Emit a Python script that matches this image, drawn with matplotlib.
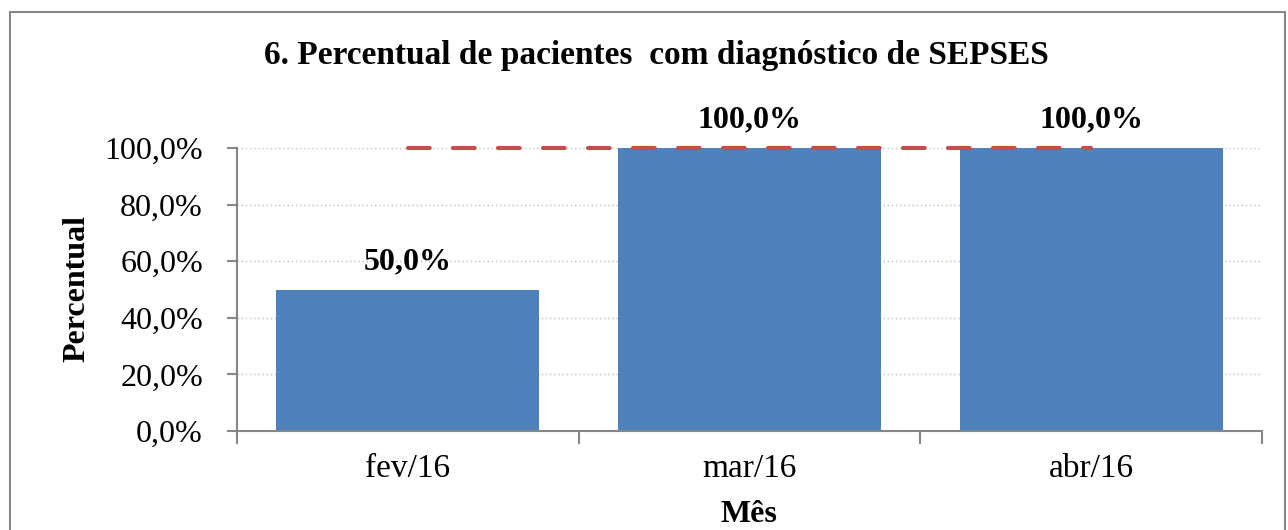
import matplotlib
matplotlib.use("Agg")
import matplotlib.pyplot as plt
from matplotlib.patches import Rectangle
from matplotlib.ticker import FuncFormatter, FixedLocator

categories = ["fev/16", "mar/16", "abr/16"]
values = [50.0, 100.0, 100.0]
meta = [100.0, 100.0, 100.0]
yticks = [0, 20, 40, 60, 80, 100]

plt.rcParams['font.family'] = ['Liberation Serif', 'DejaVu Serif']

W, H = 1288, 530
fig = plt.figure(figsize=(W / 100, H / 100), dpi=100)
fig.patch.set_facecolor('white')

# outer frame
fig.patches.append(Rectangle((10 / W, -0.05), (1285 - 10) / W, (H - 12) / H + 0.05,
                             transform=fig.transFigure, fill=False,
                             edgecolor='#868686', linewidth=1.5))

ax = fig.add_axes([237 / W, (H - 431) / H, (1262 - 237) / W, (431 - 148) / H])
x = list(range(len(categories)))
ax.bar(x, values, width=0.77, color='#4F81BD', zorder=2)
ax.plot(x, meta, color='#C0504D', linewidth=3, dashes=(5.2, 5.6),
        dash_capstyle='round', zorder=3, clip_on=False)

ax.set_xlim(-0.5, 2.5)
ax.set_ylim(0, 100)
ax.set_yticks(yticks)
ax.yaxis.set_major_formatter(FuncFormatter(lambda v, p: f"{v:.1f}%".replace('.', ',')))
ax.set_xticks(x)
ax.set_xticklabels(categories)
ax.xaxis.set_minor_locator(FixedLocator([-0.5, 0.5, 1.5, 2.5]))
ax.tick_params(axis='x', which='major', length=0, labelsize=24, pad=16)
ax.tick_params(axis='x', which='minor', length=9, width=1.5, color='#868686', direction='out')
ax.tick_params(axis='y', length=7, width=1.5, color='#868686', labelsize=23, pad=17.5)

for s in ['top', 'right']:
    ax.spines[s].set_visible(False)
for s in ['left', 'bottom']:
    ax.spines[s].set_color('#868686')
    ax.spines[s].set_linewidth(1.5)

ax.yaxis.grid(True, color='#BFBFBF', linestyle=(0, (1, 2)), linewidth=1, zorder=0)
ax.set_axisbelow(True)

for xi, v in zip(x, values):
    ax.annotate(f"{v:.1f}%".replace('.', ','), (xi, v), xytext=(0, 14.5),
                textcoords='offset points', ha='center', va='baseline',
                fontsize=23, fontweight='bold')

fig.text(77 / W, 1 - 289 / H, "Percentual", rotation=90, ha='center', va='center',
         fontsize=23, fontweight='bold')
fig.text(749 / W, 1 - 522 / H, "Mês", ha='center', va='baseline',
         fontsize=23, fontweight='bold')

fig.text(656 / W, 1 - 64 / H, "6. Percentual de pacientes  com diagnóstico de SEPSES",
         ha='center', va='baseline', fontsize=24, fontweight='bold')

fig.savefig("out.png", dpi=100)
